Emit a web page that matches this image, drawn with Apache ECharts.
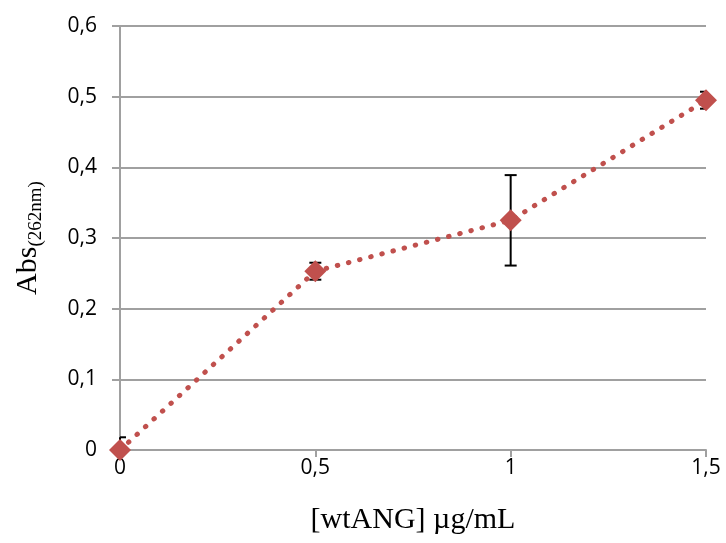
<!DOCTYPE html>
<html><head><meta charset="utf-8">
<script src="https://cdn.jsdelivr.net/npm/echarts@6/dist/echarts.min.js"></script>
<style>html,body{margin:0;padding:0;background:#fff}#c{width:726px;height:543px}</style>
</head><body><div id="c"></div>
<script>
const xValues = [0, 0.5, 1, 1.5];
const absValues = [0, 0.253, 0.325, 0.495];
const errValues = [0.018, 0.012, 0.064, 0.012];
const yTicks = [0, 0.1, 0.2, 0.3, 0.4, 0.5, 0.6];
const xTicks = [0, 0.5, 1, 1.5];

const fmt = v => String(Math.round(v * 10) / 10).replace('.', ',');
const chart = echarts.init(document.getElementById('c'));
const pts = xValues.map((x, i) => [x, absValues[i]]);
const errData = xValues.map((x, i) => [x, absValues[i] - errValues[i], absValues[i] + errValues[i]]);
const labelFont = 'Open Sans, Liberation Sans, sans-serif';
const titleFont = 'Liberation Serif, serif';

chart.setOption({
  animation: false,
  grid: { left: 120, right: 20, top: 26, bottom: 93 },
  xAxis: {
    type: 'value', min: xTicks[0], max: xTicks[xTicks.length - 1], interval: 0.5,
    axisLine: { show: true, lineStyle: { color: '#A0A0A0', width: 2 } },
    axisTick: { show: true, length: 7, lineStyle: { color: '#A0A0A0', width: 2 } },
    splitLine: { show: false },
    axisLabel: { formatter: fmt, color: '#000', fontSize: 21, fontFamily: labelFont, margin: 8 },
    name: '[wtANG] µg/mL', nameLocation: 'middle', nameGap: 55,
    nameTextStyle: { color: '#000', fontSize: 30, fontFamily: titleFont }
  },
  yAxis: {
    type: 'value', min: yTicks[0], max: yTicks[yTicks.length - 1], interval: 0.1,
    axisLine: { show: true, lineStyle: { color: '#A0A0A0', width: 2 } },
    axisTick: { show: true, length: 8, lineStyle: { color: '#A0A0A0', width: 2 } },
    splitLine: { show: true, lineStyle: { color: '#A0A0A0', width: 2 } },
    axisLabel: { formatter: fmt, color: '#000', fontSize: 21, fontFamily: labelFont, margin: 23 },
    name: '{a|Abs}{s|(262nm)}', nameLocation: 'middle', nameGap: 74, nameRotate: 90,
    nameTextStyle: {
      rich: {
        a: { fontSize: 30, fontFamily: titleFont, color: '#000' },
        s: { fontSize: 19, fontFamily: titleFont, color: '#000', padding: [16, 0, 0, 0] }
      }
    }
  },
  series: [
    {
      type: 'custom', z: 3,
      data: errData,
      renderItem: (params, api) => {
        const cs = params.coordSys;
        const yTop = cs.y, yBot = cs.y + cs.height, xL = cs.x, xR = cs.x + cs.width;
        const lo = api.coord([api.value(0), api.value(1)]);
        const hi = api.coord([api.value(0), api.value(2)]);
        const w = 6;
        const st = { stroke: '#000', lineWidth: 2 };
        const kids = [];
        const y1 = Math.min(lo[1], yBot), y2 = Math.max(hi[1], yTop);
        kids.push({ type: 'line', shape: { x1: lo[0], y1: y1, x2: hi[0], y2: y2 }, style: st });
        [lo, hi].forEach(p => {
          if (p[1] <= yBot && p[1] >= yTop) {
            kids.push({ type: 'line', shape: { x1: Math.max(p[0] - w, xL), y1: p[1], x2: Math.min(p[0] + w, xR), y2: p[1] }, style: st });
          }
        });
        return { type: 'group', children: kids };
      }
    },
    {
      type: 'line', z: 4, data: pts,
      symbol: 'diamond', symbolSize: 22,
      itemStyle: { color: '#C0504D' },
      lineStyle: { color: '#C0504D', width: 5, type: [0.5, 11], cap: 'round' }
    }
  ]
});
</script></body></html>
